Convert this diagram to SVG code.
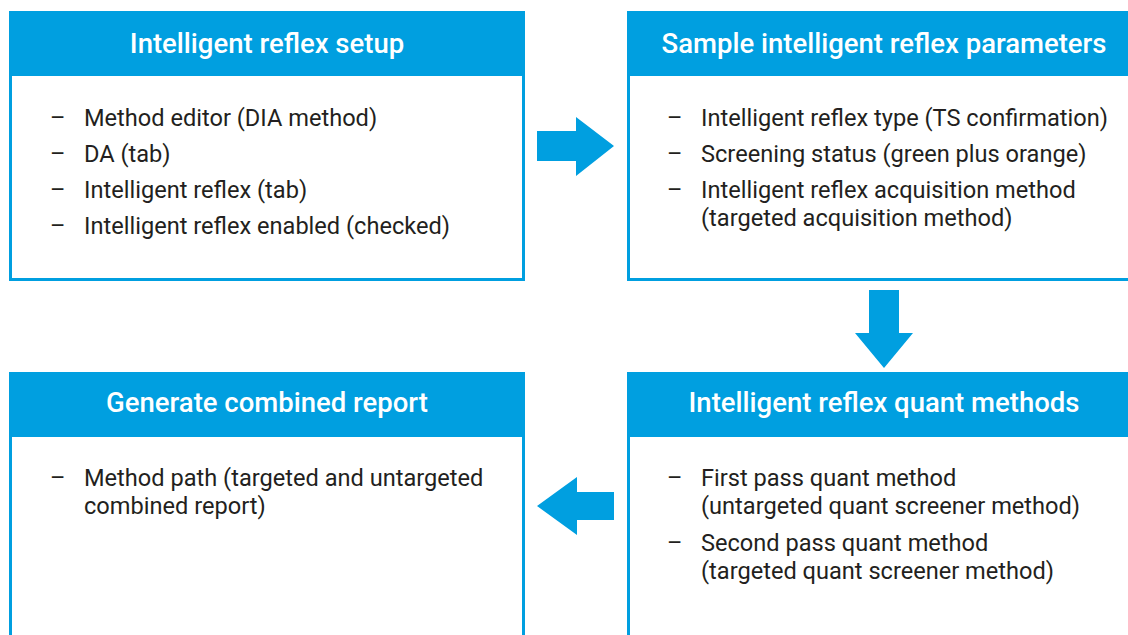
<svg xmlns="http://www.w3.org/2000/svg" width="1128" height="635" viewBox="0 0 1128 635">
<style>
.hdr{fill:#009FE0}
.body{fill:#fff;stroke:#009FE0;stroke-width:3}
.ht{font-family:Roboto,"Liberation Sans",sans-serif;font-weight:500;font-size:27.5px;fill:#fff;text-anchor:middle}
.bt{font-family:Roboto,"Liberation Sans",sans-serif;font-size:23.6px;fill:#231F20}
.arr{fill:#009FE0}
</style>
<rect width="1128" height="635" fill="#fff"/>
<g id="node-setup">
<rect class="body" x="10.5" y="70" width="513" height="209.5"/>
<rect class="hdr" x="9" y="11" width="516" height="65"/>
<text class="ht" x="267" y="53">Intelligent reflex setup</text>
<text class="bt" x="50" y="126">–</text><text class="bt" x="84" y="126">Method editor (DIA method)</text>
<text class="bt" x="50" y="162">–</text><text class="bt" x="84" y="162">DA (tab)</text>
<text class="bt" x="50" y="198">–</text><text class="bt" x="84" y="198">Intelligent reflex (tab)</text>
<text class="bt" x="50" y="234">–</text><text class="bt" x="84" y="234">Intelligent reflex enabled (checked)</text>
</g>
<g id="node-params">
<rect class="body" x="628.5" y="70" width="510" height="209.5"/>
<rect class="hdr" x="627" y="11" width="510" height="65"/>
<text class="ht" x="884" y="53">Sample intelligent reflex parameters</text>
<text class="bt" x="667" y="126">–</text><text class="bt" x="701" y="126">Intelligent reflex type (TS confirmation)</text>
<text class="bt" x="667" y="162">–</text><text class="bt" x="701" y="162">Screening status (green plus orange)</text>
<text class="bt" x="667" y="198">–</text><text class="bt" x="701" y="198">Intelligent reflex acquisition method</text>
<text class="bt" x="701" y="226">(targeted acquisition method)</text>
</g>
<g id="node-report">
<rect class="body" x="10.5" y="431" width="513" height="220"/>
<rect class="hdr" x="9" y="372" width="516" height="65"/>
<text class="ht" x="267" y="412">Generate combined report</text>
<text class="bt" x="50" y="486">–</text><text class="bt" x="84" y="486">Method path (targeted and untargeted</text>
<text class="bt" x="84" y="514">combined report)</text>
</g>
<g id="node-quant">
<rect class="body" x="628.5" y="431" width="510" height="220"/>
<rect class="hdr" x="627" y="372" width="510" height="65"/>
<text class="ht" x="884" y="412">Intelligent reflex quant methods</text>
<text class="bt" x="667" y="486">–</text><text class="bt" x="701" y="486">First pass quant method</text>
<text class="bt" x="701" y="514">(untargeted quant screener method)</text>
<text class="bt" x="667" y="551">–</text><text class="bt" x="701" y="551">Second pass quant method</text>
<text class="bt" x="701" y="579">(targeted quant screener method)</text>
</g>
<g id="connectors">
<polygon class="arr" points="537,131 576,131 576,117 614,146 576,176 576,161 537,161"/>
<polygon class="arr" points="869,290 899,290 899,333 913,333 884,368 855,333 869,333"/>
<polygon class="arr" points="614,492 577,492 577,477 537,506 577,535 577,520 614,520"/>
</g>
</svg>
